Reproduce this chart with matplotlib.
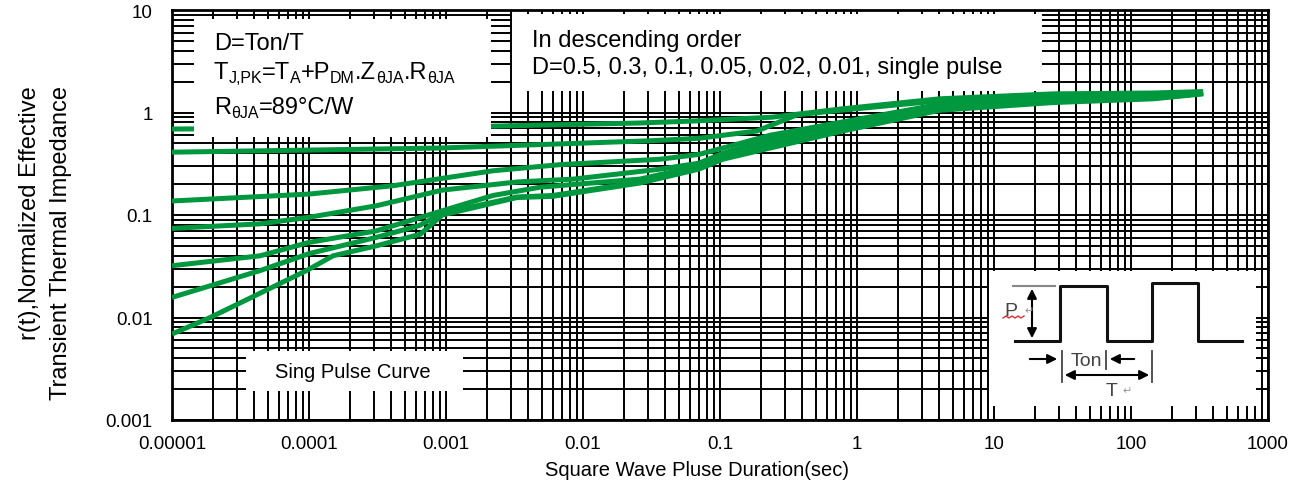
import matplotlib
matplotlib.use('Agg')
import matplotlib.pyplot as plt
from matplotlib.patches import Rectangle
from matplotlib.ticker import LogLocator, NullFormatter

plt.rcParams['font.family'] = ['Liberation Sans', 'DejaVu Sans']

# ---------------- data ----------------
x_d05 = [1e-5, 1e-4, 1e-3, 0.0026, 0.026, 0.07, 0.24, 0.75, 4, 27, 145, 336]
y_d05 = [0.69, 0.70, 0.72, 0.74, 0.79, 0.83, 0.90, 1.08, 1.36, 1.52, 1.55, 1.60]

x_d03 = [1e-5, 1e-4, 9e-4, 0.031, 0.07, 0.186, 0.365, 0.75, 4, 27, 145, 336]
y_d03 = [0.41, 0.43, 0.45, 0.53, 0.56, 0.66, 0.95, 1.05, 1.30, 1.48, 1.52, 1.58]

x_d01 = [1e-5, 1e-4, 4.1e-4, 2.2e-3, 6.8e-3, 0.0365, 0.07, 0.105, 0.232, 0.75, 4, 27, 145, 336]
y_d01 = [0.137, 0.16, 0.193, 0.27, 0.31, 0.35, 0.39, 0.45, 0.60, 0.80, 1.20, 1.42, 1.47, 1.56]

x_d005 = [1e-5, 4.4e-5, 1e-4, 3.1e-4, 9.4e-4, 3.3e-3, 8.5e-3, 0.0365, 0.07, 0.105, 0.232, 0.75, 4, 27, 145, 336]
y_d005 = [0.074, 0.082, 0.095, 0.123, 0.175, 0.21, 0.224, 0.28, 0.32, 0.40, 0.55, 0.75, 1.15, 1.37, 1.44, 1.55]

x_d002 = [1e-5, 4.4e-5, 1e-4, 3.1e-4, 9.4e-4, 2.2e-3, 4.9e-3, 0.026, 0.07, 0.105, 0.232, 0.75, 4, 27, 145, 336]
y_d002 = [0.032, 0.040, 0.054, 0.070, 0.11, 0.155, 0.187, 0.224, 0.30, 0.37, 0.50, 0.70, 1.10, 1.32, 1.41, 1.54]

x_d001 = [1e-5, 4.4e-5, 1e-4, 3.1e-4, 6.4e-4, 9.4e-4, 3.3e-3, 6e-3, 0.026, 0.07, 0.105, 0.232, 0.75, 4, 27, 145, 336]
y_d001 = [0.0157, 0.0287, 0.042, 0.0605, 0.079, 0.104, 0.15, 0.155, 0.21, 0.29, 0.36, 0.47, 0.67, 1.08, 1.28, 1.38, 1.53]

x_single = [1e-5, 1.9e-5, 9.6e-5, 1.5e-4, 3.1e-4, 6.5e-4, 9.4e-4, 3.3e-3, 6e-3, 0.026, 0.07, 0.105, 0.232, 0.75, 4, 27, 145, 336]
y_single = [0.0069, 0.010, 0.0287, 0.040, 0.050, 0.065, 0.10, 0.148, 0.152, 0.205, 0.28, 0.35, 0.45, 0.65, 1.05, 1.25, 1.36, 1.52]

series = [(x_d05, y_d05), (x_d03, y_d03), (x_d01, y_d01), (x_d005, y_d005),
          (x_d002, y_d002), (x_d001, y_d001), (x_single, y_single)]

xticks = [1e-5, 1e-4, 1e-3, 1e-2, 1e-1, 1, 10, 100, 1000]
xticklabels = ['0.00001', '0.0001', '0.001', '0.01', '0.1', '1', '10', '100', '1000']
yticks = [1e-3, 1e-2, 1e-1, 1, 10]
yticklabels = ['0.001', '0.01', '0.1', '1', '10']

GREEN = '#00983f'

# ---------------- figure ----------------
W, H = 1314, 489
fig = plt.figure(figsize=(W / 100, H / 100), dpi=100)
L, R, T, B = 172, 1268, 11, 421
ax = fig.add_axes([L / W, 1 - B / H, (R - L) / W, (B - T) / H])
ax.set_xscale('log')
ax.set_yscale('log')
ax.set_xlim(1e-5, 1e3)
ax.set_ylim(1e-3, 10)

ax.xaxis.set_minor_locator(LogLocator(base=10, subs=range(2, 10), numticks=50))
ax.yaxis.set_minor_locator(LogLocator(base=10, subs=range(2, 10), numticks=50))
ax.xaxis.set_minor_formatter(NullFormatter())
ax.yaxis.set_minor_formatter(NullFormatter())
ax.set_xticks(xticks)
ax.set_xticklabels(xticklabels)
ax.set_yticks(yticks)
ax.set_yticklabels(yticklabels)
ax.tick_params(which='both', length=0)
ax.tick_params(axis='x', pad=11, labelsize=13.5)
ax.tick_params(axis='y', pad=14, labelsize=13.5)
ax.grid(True, which='both', color='black', lw=1.4)
ax.set_axisbelow(True)
for s in ax.spines.values():
    s.set_linewidth(2)

for xs, ys in series:
    ax.plot(xs, ys, color=GREEN, lw=3.6, solid_capstyle='butt', zorder=3)

# axis labels
fig.text(697 / W, 1 - 471 / H, 'Square Wave Pluse Duration(sec)', ha='center', va='center', fontsize=14.5)
fig.text(30 / W, 1 - 86 / H, 'r(t),Normalized Effective', rotation=90, ha='center', va='top', fontsize=17)
fig.text(61 / W, 1 - 86 / H, 'Transient Thermal Impedance', rotation=90, ha='center', va='top', fontsize=17)

# ---------------- overlay (annotation boxes, pulse diagram) ----------------
ov = fig.add_axes([0, 0, 1, 1], zorder=5)
ov.set_xlim(0, W)
ov.set_ylim(H, 0)
ov.axis('off')
ov.patch.set_alpha(0)
renderer = fig.canvas.get_renderer()


def box(x0, y0, x1, y1):
    ov.add_patch(Rectangle((x0, y0), x1 - x0, y1 - y0, facecolor='white', edgecolor='none'))


def rich(x, ybase, parts, fs=17):
    for s, sub in parts:
        t = ov.text(x, ybase + (4 if sub else 0), s, fontsize=fs * 0.68 if sub else fs,
                    va='baseline', ha='left')
        x += t.get_window_extent(renderer=renderer).width


box(194, 20, 491, 138)
box(512, 15, 1042, 92)
box(246, 352, 463, 392)
box(989, 272, 1256, 407)

ov.text(214, 44, 'D=Ton/T', fontsize=17, va='center', ha='left')
rich(214, 79, [('T', 0), ('J,PK', 1), ('=T', 0), ('A', 1), ('+P', 0), ('DM', 1),
               ('.Z', 0), ('θJA', 1), ('.R', 0), ('θJA', 1)])
rich(214, 114, [('R', 0), ('θJA', 1), ('=89°C/W', 0)])

ov.text(532, 41, 'In descending order', fontsize=17, va='center', ha='left')
ov.text(532, 68, 'D=0.5, 0.3, 0.1, 0.05, 0.02, 0.01, single pulse', fontsize=17, va='center', ha='left')

ov.text(353, 373, 'Sing Pulse Curve', fontsize=14.5, va='center', ha='center')

# pulse diagram
ov.plot([1015, 1060, 1060, 1107, 1107, 1152, 1152, 1198, 1198, 1242],
        [342, 342, 287, 287, 342, 342, 284, 284, 342, 342], color='#111111', lw=2.2)
GR = '#444444'
ov.plot([1013, 1055], [287, 287], color='#888888', lw=1.5)
ov.annotate('', xy=(1032, 287), xytext=(1032, 342),
            arrowprops=dict(arrowstyle='<|-|>', color='black', lw=1.5, mutation_scale=14))
ov.text(1004, 311, 'P', fontsize=14, color=GR, va='center', ha='left')
ov.text(1024, 311, '↵', fontsize=8, color='#999999', va='center', ha='left', family='DejaVu Sans')
ov.plot([1003, 1006, 1009, 1012, 1015, 1018, 1021, 1024], [319, 317, 319, 317, 319, 317, 319, 317],
        color='#e03030', lw=1.0)
ov.annotate('', xy=(1060, 360), xytext=(1027, 360),
            arrowprops=dict(arrowstyle='-|>', color='black', lw=1.5, mutation_scale=14))
ov.annotate('', xy=(1107, 360), xytext=(1137, 360),
            arrowprops=dict(arrowstyle='-|>', color='black', lw=1.5, mutation_scale=14))
ov.plot([1062, 1062], [352, 383], color=GR, lw=1.3)
ov.plot([1106, 1106], [352, 370], color=GR, lw=1.3)
ov.plot([1152, 1152], [352, 383], color=GR, lw=1.3)
ov.annotate('', xy=(1062, 376), xytext=(1152, 376),
            arrowprops=dict(arrowstyle='<|-|>', color='black', lw=1.5, mutation_scale=14))
ov.text(1086, 362, 'Ton', fontsize=14, color=GR, va='center', ha='center')
ov.text(1112, 391, 'T', fontsize=14, color=GR, va='center', ha='center')
ov.text(1122, 391, '↵', fontsize=8, color='#999999', va='center', ha='left', family='DejaVu Sans')

fig.savefig('out.png', dpi=100)
